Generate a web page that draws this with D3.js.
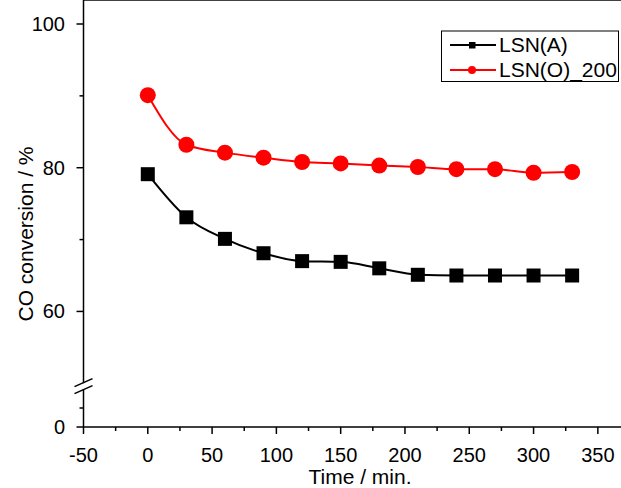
<!DOCTYPE html>
<html>
<head>
<meta charset="utf-8">
<script src="https://cdn.jsdelivr.net/npm/d3@7"></script>
<style>
  body { margin: 0; background: #fff; }
  text { font-family: Arial, 'Liberation Sans', sans-serif; fill: #000; }
</style>
</head>
<body>
<svg id="chart" width="621" height="488"></svg>
<script>
var times = [0, 30, 60, 90, 120, 150, 180, 210, 240, 270, 300, 330]
var lsnA = [79.1, 73.1, 70.1, 68.1, 67.0, 66.9, 66.0, 65.1, 65.0, 65.0, 65.0, 65.0]
var lsnO = [90.1, 83.2, 82.1, 81.4, 80.8, 80.6, 80.3, 80.1, 79.8, 79.8, 79.3, 79.4]
var seriesNames = ['LSN(A)', 'LSN(O)_200']
var xMajor = [-50, 0, 50, 100, 150, 200, 250, 300, 350]
var xMinor = [-25, 25, 75, 125, 175, 225, 275, 325]
var yMajor = [0, 60, 80, 100]
var yMinor = [10, 70, 90]

var svg = d3.select('#chart')

var x = d3.scaleLinear().domain([-50, 375]).range([83.5, 630])
// broken y axis: lower segment 0..20, upper segment 50..100
var yLow = d3.scaleLinear().domain([0, 20]).range([427, 389])
var yHigh = d3.scaleLinear().domain([50, 100]).range([383.3, 24])
var y = v => v <= 20 ? yLow(v) : yHigh(v)

var left = x(-50), bottom = y(0), top = y(100)

// frame lines
svg.append('line').attr('x1', left).attr('x2', 621).attr('y1', top).attr('y2', top)
  .attr('stroke', '#000').attr('stroke-width', 1.5)
svg.append('line').attr('x1', left).attr('x2', 621).attr('y1', bottom).attr('y2', bottom)
  .attr('stroke', '#000').attr('stroke-width', 1.5)
svg.append('line').attr('x1', left).attr('x2', left).attr('y1', top).attr('y2', bottom)
  .attr('stroke', '#000').attr('stroke-width', 1.5)

// x ticks
svg.selectAll('line.xmaj').data(xMajor).join('line')
  .attr('x1', d => x(d)).attr('x2', d => x(d)).attr('y1', bottom).attr('y2', bottom + 7)
  .attr('stroke', '#000').attr('stroke-width', 1.5)
svg.selectAll('line.xmin').data(xMinor).join('line')
  .attr('x1', d => x(d)).attr('x2', d => x(d)).attr('y1', bottom).attr('y2', bottom + 4)
  .attr('stroke', '#000').attr('stroke-width', 1.5)
svg.selectAll('text.xlab').data(xMajor).join('text')
  .attr('x', d => x(d)).attr('y', 462)
  .attr('text-anchor', 'middle').attr('font-size', 20)
  .text(d => d)

// y ticks
svg.selectAll('line.ymaj').data(yMajor).join('line')
  .attr('x1', left - 7).attr('x2', left).attr('y1', d => y(d)).attr('y2', d => y(d))
  .attr('stroke', '#000').attr('stroke-width', 1.5)
svg.selectAll('line.ymin').data(yMinor).join('line')
  .attr('x1', left - 4).attr('x2', left).attr('y1', d => y(d)).attr('y2', d => y(d))
  .attr('stroke', '#000').attr('stroke-width', 1.5)
svg.selectAll('text.ylab').data(yMajor).join('text')
  .attr('x', 65).attr('y', d => y(d) + 7)
  .attr('text-anchor', 'end').attr('font-size', 20)
  .text(d => d)

// axis break marks
var brk = (yLow(20) + yHigh(50)) / 2
svg.append('rect').attr('x', left - 2).attr('y', brk - 3).attr('width', 4).attr('height', 6).attr('fill', '#fff')
;[-3.5, 3.5].forEach(o => {
  svg.append('line')
    .attr('x1', left - 9).attr('y1', brk + o + 4)
    .attr('x2', left + 9).attr('y2', brk + o - 4)
    .attr('stroke', '#000').attr('stroke-width', 1.5)
})

// axis titles
svg.append('text').attr('x', 360).attr('y', 484)
  .attr('text-anchor', 'middle').attr('font-size', 21).text('Time / min.')
svg.append('text').attr('transform', 'translate(33,234) rotate(-90)')
  .attr('text-anchor', 'middle').attr('font-size', 21).text('CO conversion / %')

// data
var line = d3.line().x(d => x(d[0])).y(d => y(d[1])).curve(d3.curveMonotoneX)
var dataA = times.map((t, i) => [t, lsnA[i]])
var dataO = times.map((t, i) => [t, lsnO[i]])

svg.append('path').attr('d', line(dataA)).attr('fill', 'none').attr('stroke', '#000').attr('stroke-width', 2)
svg.append('path').attr('d', line(dataO)).attr('fill', 'none').attr('stroke', '#f00').attr('stroke-width', 2)

svg.selectAll('rect.ptA').data(dataA).join('rect')
  .attr('x', d => x(d[0]) - 7).attr('y', d => y(d[1]) - 7)
  .attr('width', 14).attr('height', 14).attr('fill', '#000')
svg.selectAll('circle.ptO').data(dataO).join('circle')
  .attr('cx', d => x(d[0])).attr('cy', d => y(d[1])).attr('r', 8).attr('fill', '#f00')

// legend
var lg = svg.append('g')
lg.append('rect').attr('x', 441.5).attr('y', 31).attr('width', 177).attr('height', 50.5)
  .attr('fill', '#fff').attr('stroke', '#000').attr('stroke-width', 1)
var rows = [45, 70]
lg.append('line').attr('x1', 450).attr('x2', 496).attr('y1', rows[0]).attr('y2', rows[0])
  .attr('stroke', '#000').attr('stroke-width', 2)
lg.append('rect').attr('x', 469).attr('y', rows[0] - 3).attr('width', 6.5).attr('height', 6.5).attr('fill', '#000')
lg.append('line').attr('x1', 450).attr('x2', 496).attr('y1', rows[1]).attr('y2', rows[1])
  .attr('stroke', '#f00').attr('stroke-width', 2)
lg.append('circle').attr('cx', 472).attr('cy', rows[1]).attr('r', 4).attr('fill', '#f00')
lg.selectAll('text').data(seriesNames).join('text')
  .attr('x', 499).attr('y', (d, i) => rows[i] + 7)
  .attr('font-size', 21).text(d => d)
</script>
</body>
</html>
